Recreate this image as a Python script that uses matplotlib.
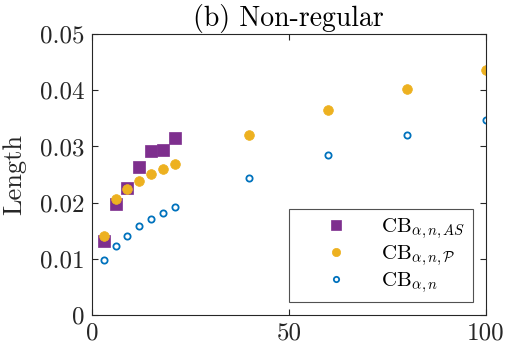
import numpy as np
import matplotlib
matplotlib.use("Agg")
import matplotlib.pyplot as plt

plt.rcParams.update({
    "font.family": "cmr10",
    "mathtext.fontset": "cm",
    "axes.formatter.use_mathtext": True,
    "font.size": 18,
})

# data
n_vals = [3, 6, 9, 12, 15, 18, 21, 40, 60, 80, 100]
n_as = [3, 6, 9, 12, 15, 18, 21]
len_as = [0.0131, 0.0198, 0.0226, 0.0263, 0.0292, 0.0294, 0.0315]
len_p = [0.0140, 0.0206, 0.0224, 0.0239, 0.0251, 0.0260, 0.0269,
         0.0321, 0.0365, 0.0403, 0.0436]
len_n = [0.0098, 0.0122, 0.0141, 0.0158, 0.0171, 0.0182, 0.0192,
         0.0244, 0.0285, 0.0320, 0.0347]

xticks = [0, 50, 100]
yticks = [0, 0.01, 0.02, 0.03, 0.04, 0.05]
ytick_labels = ["0", "0.01", "0.02", "0.03", "0.04", "0.05"]

purple = "#7E2F8E"
yellow = "#EDB120"
blue = "#0072BD"

fig = plt.figure(figsize=(5.05, 3.48), dpi=100)
ax = fig.add_axes([0.182, 0.095, 0.780, 0.807])

ax.plot(n_as, len_as, "s", color=purple, markersize=9, markeredgewidth=0.5,
        linestyle="none", label=r"CB$_{\alpha,n,AS}$")
ax.plot(n_vals, len_p, "o", color=yellow, markersize=7, markeredgewidth=0.5,
        linestyle="none", label=r"CB$_{\alpha,n,\mathcal{P}}$")
ax.plot(n_vals, len_n, "o", markerfacecolor="white", markeredgecolor=blue,
        markeredgewidth=1.3, markersize=4.5, linestyle="none",
        label=r"CB$_{\alpha,n}$")

ax.set_xlim(0, 100)
ax.set_ylim(0, 0.05)
ax.set_xticks(xticks)
ax.set_xticklabels([str(t) for t in xticks])
ax.set_yticks(yticks)
ax.set_yticklabels(ytick_labels)
ax.tick_params(direction="in", top=True, right=True, length=4,
               colors="#262626", labelcolor="#262626", labelsize=18, pad=5)
for s in ax.spines.values():
    s.set_color("#262626")
    s.set_linewidth(0.8)

ax.set_ylabel("Length", fontsize=19, color="#262626", labelpad=10)
ax.set_title("(b) Non-regular", fontsize=20, pad=6)

leg = ax.legend(loc="lower right", bbox_to_anchor=(0.967, 0.046), fontsize=15,
                frameon=True, fancybox=False, edgecolor="#262626",
                handlelength=3.8, handletextpad=0.27, borderpad=0.35,
                labelspacing=0.1, borderaxespad=0, markerscale=0.85)
leg.get_frame().set_linewidth(0.8)

fig.savefig("out.png", dpi=100)
